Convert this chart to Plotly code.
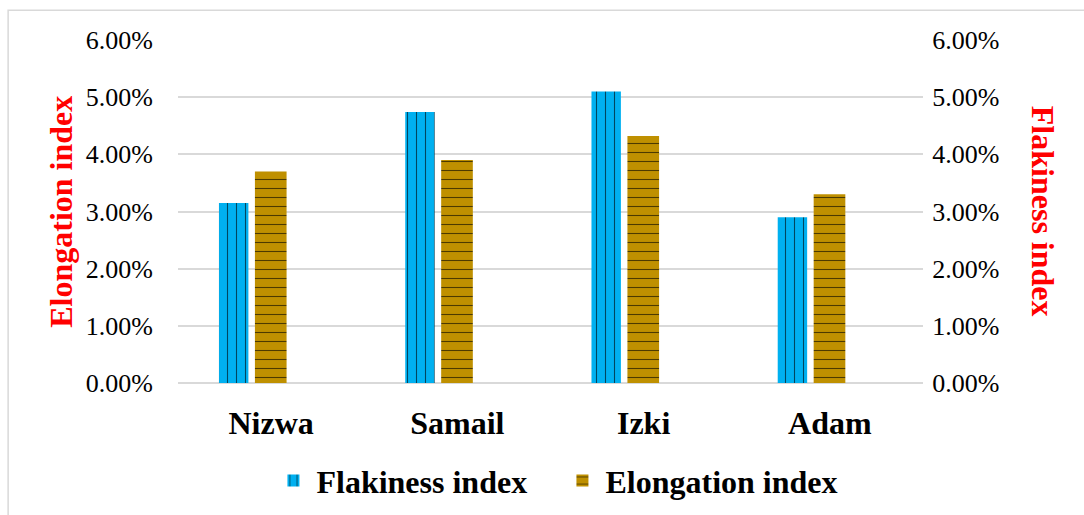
import plotly.graph_objects as go

# data
sites = ['Nizwa', 'Samail', 'Izki', 'Adam']
flakiness = [0.0315, 0.0474, 0.0510, 0.0290]
elongation = [0.0370, 0.0390, 0.0432, 0.0330]
tick_vals = [0, 0.01, 0.02, 0.03, 0.04, 0.05, 0.06]

FONT = 'Times New Roman'
GRID = '#d9d9d9'
CLEAR = 'rgba(0,0,0,0)'

fig = go.Figure()
fig.add_trace(go.Bar(
    x=sites, y=flakiness, name='Flakiness index', yaxis='y2',
    width=0.158, offset=-0.28,
    marker=dict(color='#00b0f0', line=dict(width=0),
                pattern=dict(shape='|', fgcolor='black', fgopacity=0.6, size=9, solidity=0.12)),
))
fig.add_trace(go.Bar(
    x=sites, y=elongation, name='Elongation index',
    width=0.17, offset=-0.087,
    marker=dict(color='#bf9000', line=dict(width=0),
                pattern=dict(shape='-', fgcolor='black', fgopacity=0.6, size=9, solidity=0.12)),
))

fig.update_layout(
    width=1084, height=515,
    margin=dict(l=178, r=161, t=40, b=132, autoexpand=False),
    paper_bgcolor='white', plot_bgcolor='white',
    font=dict(family=FONT, color='black'),
    showlegend=True,
    legend=dict(orientation='h', x=0.512, xanchor='center', y=-0.285, yanchor='middle',
                font=dict(size=32, family=FONT, weight='bold'), traceorder='normal',
                itemwidth=36, entrywidth=238, entrywidthmode='pixels'),
    xaxis=dict(showgrid=False, showline=False, ticks='outside', ticklen=12, tickcolor=CLEAR,
               automargin=False, tickfont=dict(size=32, family=FONT, weight='bold')),
    yaxis=dict(range=[0, 0.06], tickvals=tick_vals, tickformat='.2%', showgrid=True,
               gridcolor=GRID, gridwidth=1.5, zeroline=True, zerolinecolor=GRID, zerolinewidth=1.5,
               showline=False, ticks='outside', ticklen=19, tickcolor=CLEAR,
               automargin=False, tickfont=dict(size=26, family=FONT)),
    yaxis2=dict(range=[0, 0.06], tickvals=tick_vals, tickformat='.2%', overlaying='y', side='right',
                showgrid=False, zeroline=False, showline=False, automargin=False,
                ticks='outside', ticklen=3, tickcolor=CLEAR,
                tickfont=dict(size=26, family=FONT)),
    annotations=[
        dict(text='Elongation index', xref='paper', yref='paper', x=-0.158, y=0.5,
             textangle=-90, showarrow=False, xanchor='center', yanchor='middle',
             font=dict(size=32, family=FONT, color='red', weight='bold')),
        dict(text='Flakiness index', xref='paper', yref='paper', x=1.162, y=0.5,
             textangle=90, showarrow=False, xanchor='center', yanchor='middle',
             font=dict(size=32, family=FONT, color='red', weight='bold')),
    ],
    shapes=[dict(type='rect', xref='paper', yref='paper', x0=-0.228, x1=1.23, y0=-0.45, y1=1.087,
                 line=dict(color=GRID, width=1.5), layer='below')],
)

# page body has a default 8px margin; drop it so the figure sits at the window corner
fig.write_html('out.html', config={'displayModeBar': False},
               post_script="document.body.style.margin='0';")
